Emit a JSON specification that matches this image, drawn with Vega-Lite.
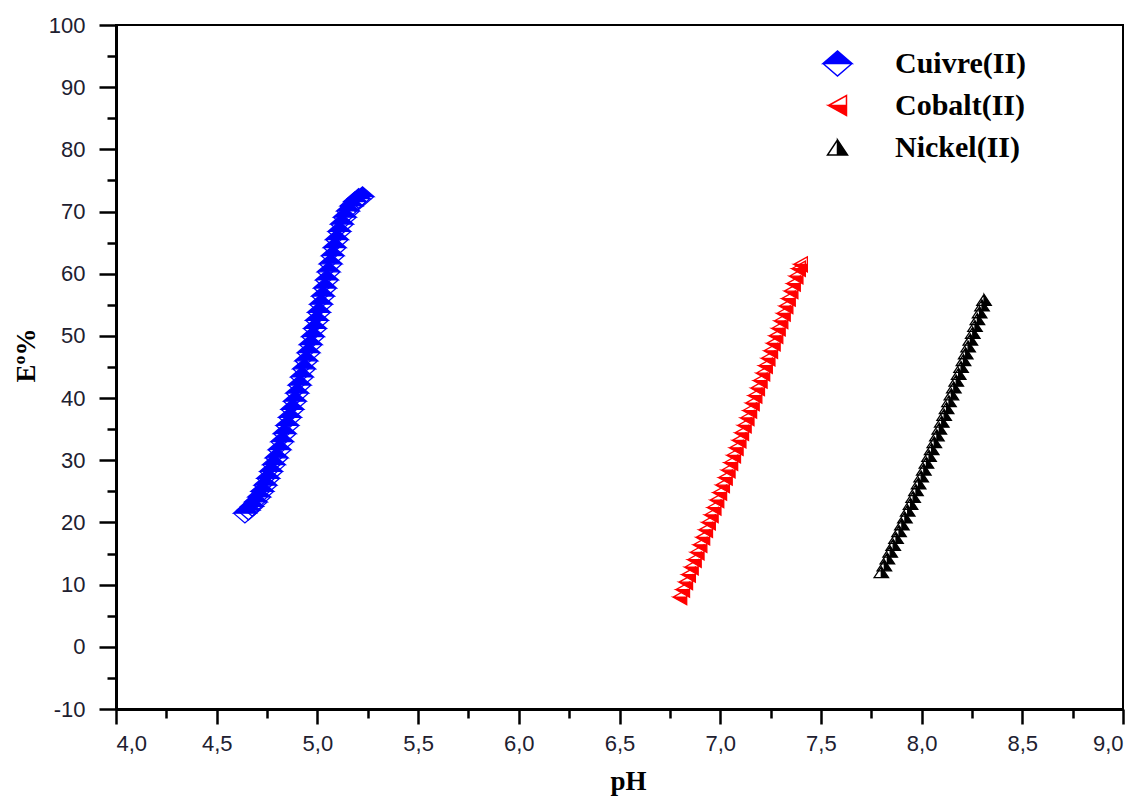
{
  "$schema": "https://vega.github.io/schema/vega-lite/v6.json",
  "width": 1007,
  "height": 684,
  "autosize": {"type": "none"},
  "padding": {"left": 116, "top": 25, "right": 22, "bottom": 92},
  "background": "white",
  "config": {
    "view": {"stroke": "#000", "strokeWidth": 2},
    "axis": {
      "domainColor": "#000", "domainWidth": 3, "tickColor": "#000", "tickWidth": 2.5,
      "grid": false, "labelFont": "Liberation Sans", "labelFontSize": 22, "labelColor": "#202030",
      "titleFont": "Liberation Serif", "titleFontWeight": "bold", "titleFontSize": 27, "titleColor": "#000"
    },
    "legend": {"symbolSize": 841, "symbolStrokeWidth": 1.5, "labelOffset": 42, "rowPadding": 11,
      "labelFont": "Liberation Serif", "labelFontWeight": "bold", "labelFontSize": 30, "labelColor": "#000", "labelLimit": 400,
      "padding": 0}
  },
  "data": {"values": [
    {"s":"Cuivre(II)","pH":4.640,"E":21.5},{"s":"Cuivre(II)","pH":4.658,"E":22.0},{"s":"Cuivre(II)","pH":4.676,"E":22.6},{"s":"Cuivre(II)","pH":4.694,"E":23.3},{"s":"Cuivre(II)","pH":4.711,"E":24.1},{"s":"Cuivre(II)","pH":4.727,"E":25.0},{"s":"Cuivre(II)","pH":4.742,"E":26.0},{"s":"Cuivre(II)","pH":4.756,"E":27.1},{"s":"Cuivre(II)","pH":4.770,"E":28.2},{"s":"Cuivre(II)","pH":4.784,"E":29.3},{"s":"Cuivre(II)","pH":4.798,"E":30.4},{"s":"Cuivre(II)","pH":4.812,"E":31.7},{"s":"Cuivre(II)","pH":4.825,"E":33.0},{"s":"Cuivre(II)","pH":4.838,"E":34.3},{"s":"Cuivre(II)","pH":4.851,"E":35.6},{"s":"Cuivre(II)","pH":4.864,"E":36.9},{"s":"Cuivre(II)","pH":4.876,"E":38.2},{"s":"Cuivre(II)","pH":4.888,"E":39.5},{"s":"Cuivre(II)","pH":4.900,"E":40.8},{"s":"Cuivre(II)","pH":4.912,"E":42.1},{"s":"Cuivre(II)","pH":4.923,"E":43.4},{"s":"Cuivre(II)","pH":4.934,"E":44.7},{"s":"Cuivre(II)","pH":4.945,"E":46.0},{"s":"Cuivre(II)","pH":4.956,"E":47.3},{"s":"Cuivre(II)","pH":4.967,"E":48.6},{"s":"Cuivre(II)","pH":4.978,"E":49.9},{"s":"Cuivre(II)","pH":4.988,"E":51.2},{"s":"Cuivre(II)","pH":4.998,"E":52.5},{"s":"Cuivre(II)","pH":5.008,"E":53.8},{"s":"Cuivre(II)","pH":5.018,"E":55.1},{"s":"Cuivre(II)","pH":5.028,"E":56.4},{"s":"Cuivre(II)","pH":5.038,"E":57.7},{"s":"Cuivre(II)","pH":5.047,"E":59.0},{"s":"Cuivre(II)","pH":5.056,"E":60.3},{"s":"Cuivre(II)","pH":5.066,"E":61.6},{"s":"Cuivre(II)","pH":5.076,"E":62.9},{"s":"Cuivre(II)","pH":5.086,"E":64.2},{"s":"Cuivre(II)","pH":5.097,"E":65.5},{"s":"Cuivre(II)","pH":5.109,"E":66.8},{"s":"Cuivre(II)","pH":5.122,"E":68.0},{"s":"Cuivre(II)","pH":5.136,"E":69.1},{"s":"Cuivre(II)","pH":5.152,"E":70.1},{"s":"Cuivre(II)","pH":5.169,"E":70.9},{"s":"Cuivre(II)","pH":5.187,"E":71.6},{"s":"Cuivre(II)","pH":5.205,"E":72.1},{"s":"Cuivre(II)","pH":5.224,"E":72.4},
    {"s":"Cobalt(II)","pH":6.800,"E":8.0},{"s":"Cobalt(II)","pH":6.814,"E":9.2},{"s":"Cobalt(II)","pH":6.829,"E":10.4},{"s":"Cobalt(II)","pH":6.843,"E":11.6},{"s":"Cobalt(II)","pH":6.857,"E":12.8},{"s":"Cobalt(II)","pH":6.872,"E":14.0},{"s":"Cobalt(II)","pH":6.886,"E":15.2},{"s":"Cobalt(II)","pH":6.900,"E":16.4},{"s":"Cobalt(II)","pH":6.914,"E":17.6},{"s":"Cobalt(II)","pH":6.928,"E":18.8},{"s":"Cobalt(II)","pH":6.942,"E":20.0},{"s":"Cobalt(II)","pH":6.956,"E":21.2},{"s":"Cobalt(II)","pH":6.970,"E":22.4},{"s":"Cobalt(II)","pH":6.984,"E":23.6},{"s":"Cobalt(II)","pH":6.998,"E":24.8},{"s":"Cobalt(II)","pH":7.012,"E":26.0},{"s":"Cobalt(II)","pH":7.026,"E":27.2},{"s":"Cobalt(II)","pH":7.040,"E":28.4},{"s":"Cobalt(II)","pH":7.053,"E":29.6},{"s":"Cobalt(II)","pH":7.067,"E":30.8},{"s":"Cobalt(II)","pH":7.080,"E":32.0},{"s":"Cobalt(II)","pH":7.094,"E":33.2},{"s":"Cobalt(II)","pH":7.107,"E":34.4},{"s":"Cobalt(II)","pH":7.120,"E":35.6},{"s":"Cobalt(II)","pH":7.134,"E":36.8},{"s":"Cobalt(II)","pH":7.147,"E":38.0},{"s":"Cobalt(II)","pH":7.160,"E":39.2},{"s":"Cobalt(II)","pH":7.173,"E":40.4},{"s":"Cobalt(II)","pH":7.186,"E":41.6},{"s":"Cobalt(II)","pH":7.199,"E":42.8},{"s":"Cobalt(II)","pH":7.212,"E":44.0},{"s":"Cobalt(II)","pH":7.225,"E":45.2},{"s":"Cobalt(II)","pH":7.238,"E":46.4},{"s":"Cobalt(II)","pH":7.251,"E":47.6},{"s":"Cobalt(II)","pH":7.264,"E":48.8},{"s":"Cobalt(II)","pH":7.277,"E":50.0},{"s":"Cobalt(II)","pH":7.289,"E":51.2},{"s":"Cobalt(II)","pH":7.302,"E":52.4},{"s":"Cobalt(II)","pH":7.314,"E":53.6},{"s":"Cobalt(II)","pH":7.327,"E":54.8},{"s":"Cobalt(II)","pH":7.339,"E":56.0},{"s":"Cobalt(II)","pH":7.352,"E":57.2},{"s":"Cobalt(II)","pH":7.364,"E":58.4},{"s":"Cobalt(II)","pH":7.377,"E":59.6},{"s":"Cobalt(II)","pH":7.389,"E":60.8},{"s":"Cobalt(II)","pH":7.399,"E":61.5},
    {"s":"Nickel(II)","pH":7.800,"E":12.0},{"s":"Nickel(II)","pH":7.815,"E":13.1},{"s":"Nickel(II)","pH":7.830,"E":14.2},{"s":"Nickel(II)","pH":7.844,"E":15.3},{"s":"Nickel(II)","pH":7.859,"E":16.4},{"s":"Nickel(II)","pH":7.873,"E":17.5},{"s":"Nickel(II)","pH":7.888,"E":18.6},{"s":"Nickel(II)","pH":7.902,"E":19.7},{"s":"Nickel(II)","pH":7.917,"E":20.8},{"s":"Nickel(II)","pH":7.931,"E":21.9},{"s":"Nickel(II)","pH":7.945,"E":23.0},{"s":"Nickel(II)","pH":7.958,"E":24.1},{"s":"Nickel(II)","pH":7.972,"E":25.2},{"s":"Nickel(II)","pH":7.985,"E":26.3},{"s":"Nickel(II)","pH":7.998,"E":27.4},{"s":"Nickel(II)","pH":8.011,"E":28.5},{"s":"Nickel(II)","pH":8.024,"E":29.6},{"s":"Nickel(II)","pH":8.037,"E":30.7},{"s":"Nickel(II)","pH":8.050,"E":31.8},{"s":"Nickel(II)","pH":8.063,"E":32.9},{"s":"Nickel(II)","pH":8.076,"E":34.0},{"s":"Nickel(II)","pH":8.088,"E":35.1},{"s":"Nickel(II)","pH":8.100,"E":36.2},{"s":"Nickel(II)","pH":8.112,"E":37.3},{"s":"Nickel(II)","pH":8.124,"E":38.4},{"s":"Nickel(II)","pH":8.136,"E":39.5},{"s":"Nickel(II)","pH":8.148,"E":40.6},{"s":"Nickel(II)","pH":8.160,"E":41.7},{"s":"Nickel(II)","pH":8.172,"E":42.8},{"s":"Nickel(II)","pH":8.184,"E":43.9},{"s":"Nickel(II)","pH":8.196,"E":45.0},{"s":"Nickel(II)","pH":8.208,"E":46.1},{"s":"Nickel(II)","pH":8.219,"E":47.2},{"s":"Nickel(II)","pH":8.231,"E":48.3},{"s":"Nickel(II)","pH":8.242,"E":49.4},{"s":"Nickel(II)","pH":8.254,"E":50.5},{"s":"Nickel(II)","pH":8.265,"E":51.6},{"s":"Nickel(II)","pH":8.277,"E":52.7},{"s":"Nickel(II)","pH":8.288,"E":53.8},{"s":"Nickel(II)","pH":8.300,"E":54.9},{"s":"Nickel(II)","pH":8.310,"E":55.8}
  ]},
  "layer": [
    {
      "mark": {"type": "point", "opacity": 0},
      "encoding": {
        "x": {"field": "pH", "type": "quantitative", "scale": {"domain": [4, 9], "nice": false, "zero": false},
          "axis": {"orient": "bottom", "title": null, "values": [4.25, 4.75, 5.25, 5.75, 6.25, 6.75, 7.25, 7.75, 8.25, 8.75],
            "labels": false, "domain": false, "tickSize": 9}},
        "y": {"field": "E", "type": "quantitative", "scale": {"domain": [-10, 100], "nice": false, "zero": false},
          "axis": {"orient": "left", "title": null, "values": [-5, 5, 15, 25, 35, 45, 55, 65, 75, 85, 95],
            "labels": false, "domain": false, "tickSize": 9}}
      }
    },
    {
      "mark": {"type": "point", "filled": true, "strokeWidth": 1.3, "opacity": 1},
      "encoding": {
        "x": {"field": "pH", "type": "quantitative",
          "axis": {"orient": "bottom", "title": "pH", "values": [4, 4.5, 5, 5.5, 6, 6.5, 7, 7.5, 8, 8.5, 9],
            "labelExpr": "replace(format(datum.value, '.1f'), '.', ',')", "tickSize": 15, "labelPadding": 9,
            "titleX": 512, "titleY": 59}},
        "y": {"field": "E", "type": "quantitative",
          "axis": {"orient": "left", "title": "Eº%", "values": [-10, 0, 10, 20, 30, 40, 50, 60, 70, 80, 90, 100],
            "labelExpr": "datum.value < 0 ? '-' + abs(datum.value) : '' + datum.value",
            "tickSize": 17, "labelPadding": 14, "titleX": -76, "titleY": 330}},
        "shape": {"field": "s", "type": "nominal", "title": null, "scale": {"domain": ["Cuivre(II)", "Cobalt(II)", "Nickel(II)"],
          "range": ["M-1,0L0,-0.86L1,0ZM-1,0L0,0.86L1,0L0,0.86Z", "M-0.62,0L0.62,0L0.62,0.69ZM-0.62,0L0.62,-0.69L0.62,0L0.62,-0.69Z", "M0,-0.52L0.69,0.52L0,0.52ZM0,-0.52L-0.69,0.52L0,0.52L-0.69,0.52Z"]},
          "legend": {"orient": "none", "legendX": 706, "legendY": 23}},
        "fill": {"field": "s", "type": "nominal", "title": null, "scale": {"domain": ["Cuivre(II)", "Cobalt(II)", "Nickel(II)"], "range": ["#0000ff", "#ff0000", "#000000"]},
          "legend": {"orient": "none", "legendX": 706, "legendY": 23}},
        "stroke": {"field": "s", "type": "nominal", "title": null, "scale": {"domain": ["Cuivre(II)", "Cobalt(II)", "Nickel(II)"], "range": ["#0000ff", "#ff0000", "#000000"]},
          "legend": {"orient": "none", "legendX": 706, "legendY": 23}},
        "size": {"field": "s", "type": "nominal", "scale": {"domain": ["Nickel(II)", "Cobalt(II)", "Cuivre(II)"], "range": [440, 520, 230]}, "legend": null}
      }
    }
  ],
  "resolve": {"axis": {"x": "independent", "y": "independent"}}
}
